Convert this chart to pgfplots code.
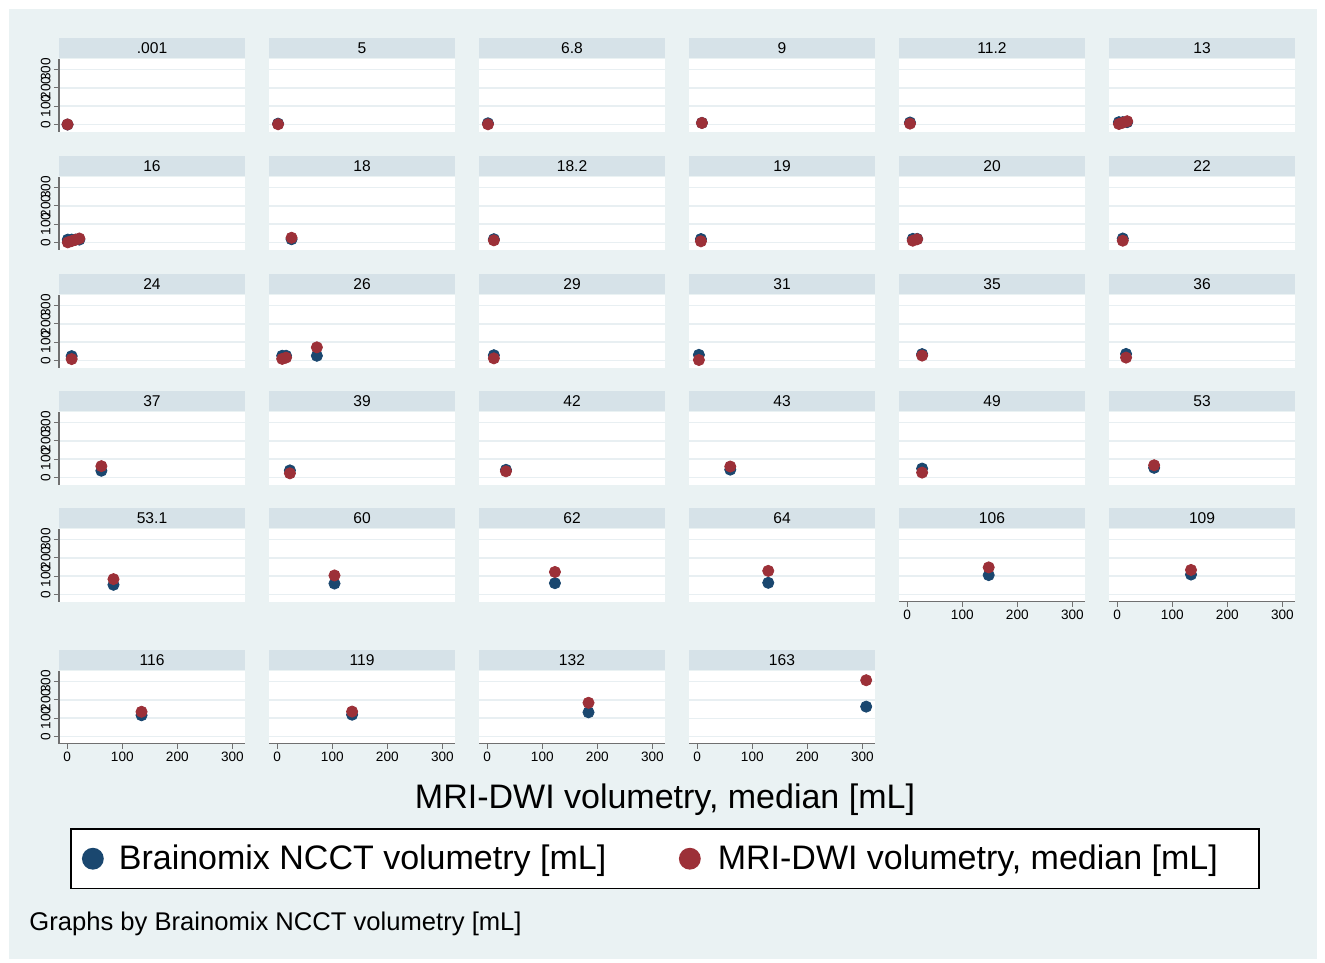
\documentclass[border=0pt]{standalone}
\usepackage{pgfplots}
\pgfplotsset{compat=1.18}
\usepackage{fontspec}
\setmainfont{Liberation Sans}
\definecolor{bgc}{HTML}{EAF2F3}
\definecolor{hdrc}{HTML}{D6E2E8}
\definecolor{gridc}{HTML}{E8EFF2}
\definecolor{axc}{HTML}{707070}
\definecolor{navyc}{HTML}{1A476F}
\definecolor{maroonc}{HTML}{9C3038}
\newcommand{\hdrfont}{\fontsize{7.8bp}{9bp}\selectfont}
\newcommand{\tickfont}{\fontsize{6.8bp}{8bp}\selectfont}
\newcommand{\bigfont}{\fontsize{17bp}{20bp}\selectfont}
\newcommand{\notefont}{\fontsize{12.8bp}{15bp}\selectfont}
\pgfplotsset{
  panel/.style={
    scale only axis, width=93bp, height=36.5bp, anchor=north west,
    xmin=-15, xmax=323, ymin=-38, ymax=360,
    xtick={0,100,200,300}, ytick={0,100,200,300},
    xticklabels={}, yticklabels={},
    ymajorgrids, major grid style={color=gridc, line width=0.7bp},
    axis line style={draw=none},
    xtick pos=bottom, ytick pos=left, tick align=outside, major tick length=2.5bp,
    xtick style={draw=none}, ytick style={draw=none},
    axis background/.style={fill=white},
    every axis title/.style={at={(0.5,1)}, anchor=south, fill=hdrc, minimum width=93bp, minimum height=10bp, inner sep=0pt, font=\hdrfont},
    clip=false,
    /pgf/number format/assume math mode=true,
    xticklabel style={font=\tickfont, inner sep=1.5bp},
    yticklabel style={font=\tickfont, rotate=90, anchor=south, inner sep=1.5bp},
  },
  ylabs/.style={yticklabels={0,100,200,300}, ytick style={draw=axc, line width=0.6bp},
    extra description/.code={\draw[axc,line width=0.6bp] (0,0)--(0,1);}},
  xlabs/.style={xticklabels={0,100,200,300}, xtick style={draw=axc, line width=0.6bp},
    extra description/.code={\draw[axc,line width=0.6bp] (0,0)--(1,0);}},
  xylabs/.style={xticklabels={0,100,200,300}, yticklabels={0,100,200,300},
    xtick style={draw=axc, line width=0.6bp}, ytick style={draw=axc, line width=0.6bp},
    extra description/.code={\draw[axc,line width=0.6bp] (0,1)--(0,0)--(1,0);}},
  bluem/.style={only marks, mark=*, mark size=2.8bp, color=navyc},
  redm/.style={only marks, mark=*, mark size=2.8bp, color=maroonc},
}
% #1 left (bp), #2 top (bp), #3 title, #4 options, #5 NCCT points, #6 MRI points
\newcommand{\panel}[6]{%
\begin{axis}[panel, at={(#1bp,#2bp)}, title={#3}, #4]
\addplot[bluem] coordinates {#5};
\addplot[redm] coordinates {#6};
\end{axis}}
\begin{document}
\begin{tikzpicture}
\begin{scope}[x=0.5bp,y=-0.5bp]
\fill[white] (0,0) rectangle (1325,963);
\fill[bgc] (9,9) rectangle (1317,959);
\end{scope}
% Row 1
\panel{29.5}{-29.25}{.001}{ylabs}{(0.5,0.001)}{(0.5,0.5)}
\panel{134.5}{-29.25}{5}{}{(1.5,5)}{(1.5,1.5)}
\panel{239.5}{-29.25}{6.8}{}{(1.3,6.8)}{(1.3,1.3)}
\panel{344.5}{-29.25}{9}{}{(8.5,9)}{(8.5,8.5)}
\panel{449.5}{-29.25}{11.2}{}{(5,11.2)}{(5,5)}
\panel{554.5}{-29.25}{13}{}{(3,13) (10,13) (18,13)}{(3,3) (10,10) (18,18)}
% Row 2
\panel{29.5}{-88.25}{16}{ylabs}{(1,16) (8,16) (15,16) (22,16)}{(1,1) (8,8) (15,15) (22,22)}
\panel{134.5}{-88.25}{18}{}{(26,18)}{(26,26)}
\panel{239.5}{-88.25}{18.2}{}{(12,18.2)}{(12,12)}
\panel{344.5}{-88.25}{19}{}{(6.7,19)}{(6.7,6.7)}
\panel{449.5}{-88.25}{20}{}{(10,20) (18,20)}{(10,10) (18,18)}
\panel{554.5}{-88.25}{22}{}{(10,22)}{(10,10)}
% Row 3
\panel{29.5}{-147.25}{24}{ylabs}{(8,24)}{(8,8)}
\panel{134.5}{-147.25}{26}{}{(9,26) (16,26) (72,26)}{(9,9) (16,16) (72,72)}
\panel{239.5}{-147.25}{29}{}{(12,29)}{(12,12)}
\panel{344.5}{-147.25}{31}{}{(3,31)}{(3,3)}
\panel{449.5}{-147.25}{35}{}{(27,35)}{(27,27)}
\panel{554.5}{-147.25}{36}{}{(16,36)}{(16,16)}
% Row 4
\panel{29.5}{-205.75}{37}{ylabs}{(62,37)}{(62,62)}
\panel{134.5}{-205.75}{39}{}{(23,39)}{(23,23)}
\panel{239.5}{-205.75}{42}{}{(34,42)}{(34,34)}
\panel{344.5}{-205.75}{43}{}{(60,43)}{(60,60)}
\panel{449.5}{-205.75}{49}{}{(27,49)}{(27,27)}
\panel{554.5}{-205.75}{53}{}{(67,53)}{(67,67)}
% Row 5
\panel{29.5}{-264.25}{53.1}{ylabs}{(84,53.1)}{(84,84)}
\panel{134.5}{-264.25}{60}{}{(104,60)}{(104,104)}
\panel{239.5}{-264.25}{62}{}{(123,62)}{(123,123)}
\panel{344.5}{-264.25}{64}{}{(129,64)}{(129,129)}
\panel{449.5}{-264.25}{106}{xlabs}{(148,106)}{(148,148)}
\panel{554.5}{-264.25}{109}{xlabs}{(134,109)}{(134,134)}
% Row 6
\panel{29.5}{-335.25}{116}{xylabs}{(135,116)}{(135,135)}
\panel{134.5}{-335.25}{119}{xlabs}{(136,119)}{(136,136)}
\panel{239.5}{-335.25}{132}{xlabs}{(184,132)}{(184,184)}
\panel{344.5}{-335.25}{163}{xlabs,
  legend entries={{\hspace*{6bp}\makebox[271bp][l]{Brainomix NCCT volumetry [mL]}},{\makebox[262.5bp][l]{MRI-DWI volumetry, median [mL]}}},
  legend columns=2,
  legend image post style={mark size=5bp},
  legend style={at={(-3.328,-1.1575)}, anchor=north west, draw=black, line width=0.9bp, fill=white,
    inner xsep=6bp, inner ysep=6bp, font=\bigfont,
    /tikz/column 2/.style={column sep=7.5bp},
    /tikz/column 3/.style={column sep=7bp}}}
  {(307,163)}{(307,307)}
\begin{scope}[x=0.5bp,y=-0.5bp]
\node[font=\bigfont] at (665,800) {MRI-DWI volumetry, median [mL]};
\node[font=\notefont, anchor=west, inner sep=0pt] at (29,924) {Graphs by Brainomix NCCT volumetry [mL]};
\end{scope}
\pgfresetboundingbox
\path[use as bounding box] (0,0) rectangle (662.5bp,-481.5bp);
\end{tikzpicture}
\end{document}
